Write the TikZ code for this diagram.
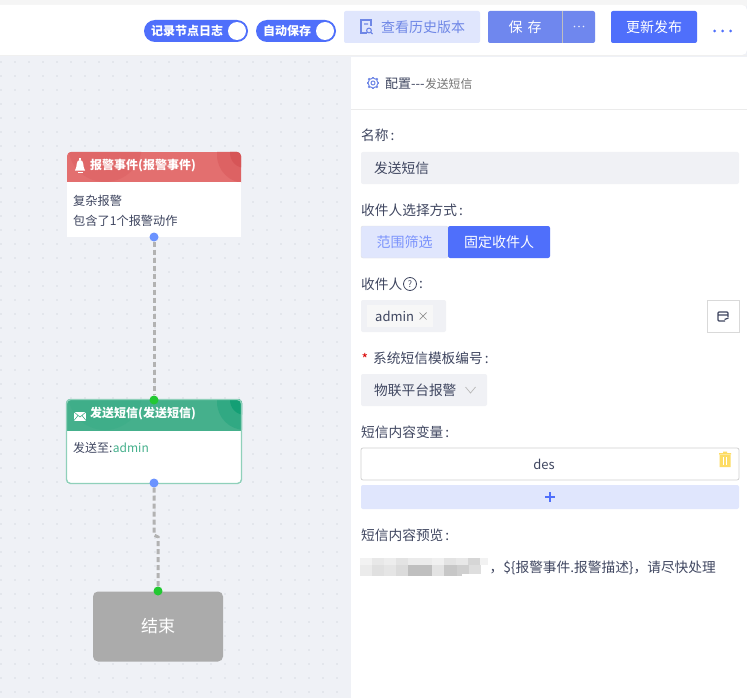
\documentclass[tikz,border=0pt]{standalone}
\usepackage{fontspec}
\setmainfont{Noto Sans CJK SC}
\usetikzlibrary{positioning}

\definecolor{canvasbg}{HTML}{EFF1F6}
\definecolor{griddot}{HTML}{BFC3CC}
\definecolor{mainblue}{HTML}{4F6FFB}
\definecolor{softblue}{HTML}{6F87E6}
\definecolor{paleblue}{HTML}{E0E6FD}
\definecolor{saveblue}{HTML}{6F87EE}
\definecolor{inputbg}{HTML}{F0F1F5}
\definecolor{inktext}{HTML}{3F4660}
\definecolor{alarmred}{HTML}{E36F6F}
\definecolor{alarmdeep}{HTML}{D65557}
\definecolor{smsgreen}{HTML}{45B08C}
\definecolor{smsdeep}{HTML}{149F75}
\definecolor{portblue}{HTML}{6B93FF}
\definecolor{portgreen}{HTML}{22C832}

\tikzset{
	label/.style={anchor=west, inner sep=0pt, yshift=-0.7pt, text=inktext, font=\fontsize{13.7}{15}\selectfont},
	small/.style={font=\fontsize{12.2}{14}\selectfont},
	btn/.style={inner sep=0pt, minimum height=32pt, rounded corners=2pt, font=\fontsize{14}{16}\selectfont},
	input/.style={inner sep=0pt, minimum height=32pt, fill=inputbg, rounded corners=2pt},
	toggle/.style={inner sep=0pt, minimum height=22pt, fill=mainblue, rounded corners=11pt, text=white, font=\bfseries\fontsize{12}{14}\selectfont},
	knob/.style={circle, fill=white, inner sep=0pt, minimum size=18pt},
	title/.style={anchor=west, inner sep=0pt, text=white, font=\bfseries\fontsize{12}{14}\selectfont},
	port/.style={circle, inner sep=0pt, minimum size=9pt},
	link/.style={draw=black!30, line width=3pt, dash pattern=on 5pt off 3pt},
}

\begin{document}
\begin{tikzpicture}[x=1pt, y=-1pt]
	\useasboundingbox (0,0) rectangle (747,698);
	\fill[canvasbg] (0,0) rectangle (747,698);

	% canvas dots
	\foreach \i in {0,...,24}
		\foreach \j in {0,...,45}
			\fill[griddot] (1+14*\i,62+14*\j) circle (0.7);

	% top bar
	\fill[white!96!black] (0,0) rectangle (747,6);
	\fill[white, rounded corners=5pt] (-10,5) rectangle (747,55);
	\draw[black!6, line width=1pt] (0,56) -- (747,56);

	\node (logtoggle) [toggle, minimum width=104pt, text width=92pt] at (196,31) {\hspace*{1pt}记录节点日志};
	\node (logknob) [knob] at (237,31) {};
	\node (savetoggle) [toggle, minimum width=80pt, text width=68pt] at (296,31) {\hspace*{1pt}自动保存};
	\node (saveknob) [knob] at (325,31) {};

	\node (history) [btn, fill=paleblue, minimum width=136pt] at (412,27) {};
	\node (historytext) [label, text=softblue, font=\fontsize{14}{16}\selectfont] at (381,27) {查看历史版本};
	\draw[softblue, line width=1.1pt] (367,33) -- (361,33) -- (361,20) -- (371,20) -- (371,26);
	\draw[softblue, line width=1.1pt] (369,30.5) circle (2.4) (371,32.5) -- (372.5,34) (364,24) -- (368,24);

	\node (save) [btn, fill=saveblue, minimum width=107pt] at (541.5,27) {};
	\node (savetext) [text=white, inner sep=0pt, font=\fontsize{14}{16}\selectfont] at (525,27) {保\hspace{5pt}存};
	\draw[black!25, line width=0.8pt] (562,11) -- (562,43);
	\foreach \x in {574.5,579,583.5}
		\fill[white!85!saveblue] (\x,26.5) circle (0.8);

	\node (publish) [btn, fill=mainblue, text=white, minimum width=86pt] at (654,27) {更新发布};
	\foreach \x in {714.5,722.5,730.5}
		\fill[mainblue] (\x,31) circle (1.5);

	% right panel
	\fill[white] (351,57) rectangle (747,698);
	\draw[black!8, line width=1pt] (351,109.5) -- (747,109.5);

	\foreach \a in {0,45,...,315}
		\draw[softblue, line width=1.8pt] (373,83) ++(\a:4.6) -- ++(\a:1.8);
	\draw[softblue, fill=white, line width=1pt] (373,83) circle (5);
	\draw[softblue, line width=1pt] (373,83) circle (2);
	\node (confhead) [label, font=\fontsize{13}{15}\selectfont] at (385,83) {配置-{}-{}-};
	\node (confname) [label, right=0pt of confhead, text=black!55, font=\fontsize{11.8}{13}\selectfont] {发送短信};

	\node (namelabel) [label] at (361,135) {名称\kern2pt:};
	\node (nameinput) [input, minimum width=378pt] at (550,168) {};
	\node (nametext) [label] at (374,168) {发送短信};

	\node (modelabel) [label] at (361,210) {收件人选择方式\kern2pt:};
	\node (modearea) [btn, fill=paleblue, draw=black!12, minimum width=87pt, text=mainblue!75] at (404.5,242) {范围筛选};
	\node (modefixed) [btn, fill=mainblue, text=white, minimum width=102pt] at (499,242) {固定收件人};

	\node (reclabel) [label] at (361,284) {收件人};
	\node (helpmark) [circle, draw=inktext, line width=0.8pt, inner sep=0pt, minimum size=13pt, text=inktext, font=\fontsize{9}{9}\selectfont] at (410,284) {?};
	\node (reccolon) [label] at (419,284) {:};
	\node (recinput) [input, minimum width=85pt] at (403.5,316) {};
	\node (rectag) [fill=black!3, inner sep=0pt, minimum width=66pt, minimum height=22pt] at (400,316) {};
	\node (rectext) [label, font=\fontsize{13}{15}\selectfont] at (375,316) {admin};
	\draw[black!45, line width=0.7pt] (419.5,312.5) -- (426.5,319.5) (426.5,312.5) -- (419.5,319.5);
	\node (recpick) [draw=black!15, inner sep=0pt, minimum size=32pt, line width=0.8pt] at (723,316) {};
	\draw[inktext, line width=1.1pt, rounded corners=1pt] (725,321) -- (718,321) -- (718,312) -- (728,312) -- (728,317) (718,315) -- (728,315);
	\draw[inktext, line width=1.2pt] (724.5,319.5) -- (728.5,318);

	\node (tplstar) [inner sep=0pt, text=red!85!black, font=\fontsize{14}{14}\selectfont] at (365,359) {*};
	\node (tpllabel) [label] at (373,358) {系统短信模板编号\kern2pt:};
	\node (tplinput) [input, minimum width=126pt] at (424,390) {};
	\node (tpltext) [label] at (374,390) {物联平台报警};
	\draw[black!28, line width=0.7pt] (465.5,387) -- (470.5,393) -- (475.5,387);

	\node (varlabel) [label] at (361,432) {短信内容变量\kern2pt:};
	\node (varbox) [draw=black!18, fill=white, line width=0.8pt, rounded corners=2pt, inner sep=0pt, minimum width=378pt, minimum height=32pt, text=inktext, font=\fontsize{13}{15}\selectfont] at (550,464) {\hspace*{-12pt}des};
	\fill[yellow!60!orange!60!white] (719.5,455) rectangle (730.5,467) (719,453) rectangle (731,454.5) (723,451.5) rectangle (727,453);
	\draw[white, line width=0.7pt] (723.5,457) -- (723.5,465) (726.5,457) -- (726.5,465);
	\node (varadd) [fill=paleblue, rounded corners=2pt, inner sep=0pt, minimum width=378pt, minimum height=24pt] at (550,497) {};
	\draw[mainblue, line width=1.6pt] (545,497) -- (555,497) (550,492) -- (550,502);

	\node (prevlabel) [label] at (361,535) {短信内容预览\kern2pt:};
	% blurred part of the preview
	\foreach \x/\w/\g in {360/12/5, 372/12/9, 384/12/7, 396/12/11, 408/24/8, 432/12/6, 444/12/11, 456/12/9, 468/12/16, 480/8/5}
		\fill[black!\g] (\x,558) rectangle (\x+\w,565);
	\foreach \x/\w/\g in {360/12/8, 372/12/12, 384/12/10, 396/12/14, 408/24/25, 432/12/11, 444/13/22, 457/12/19, 469/12/13}
		\fill[black!\g] (\x,565) rectangle (\x+\w,576);
	\fill[white] (462,574) rectangle (490,577);
	\node (prevtext) [label, anchor=east] at (716,567) {，\$\{报警事件.报警描述\}，请尽快处理};

	% alarm card
	\begin{scope}
		\clip[rounded corners=4pt] (67,152) rectangle (241,190);
		\fill[alarmred] (67,152) rectangle (241,190);
		\fill[alarmdeep!30!alarmred] (105,145) circle (37);
		\fill[alarmdeep!50!alarmred] (245,155) circle (28);
		\fill[alarmdeep] (245,153) circle (15);
	\end{scope}
	\node (alarmbody) [fill=white, inner sep=0pt, minimum width=174pt, minimum height=55pt] at (154,209.5) {};
	\node (alarmtitle) [title] at (90,165.5) {报警事件(报警事件)};
	\fill[white] (75,170.5) .. controls (77.5,167) and (75.5,160) .. (80,160) .. controls (84.5,160) and (82.5,167) .. (85,170.5) -- cycle;
	\fill[white] (79,158) rectangle (81,160);
	\fill[white] (77.5,171.5) rectangle (82.5,173);
	\node (alarmline) [label, small] at (73,200) {复杂报警};
	\node (alarmnote) [label, small] at (73,220) {包含了1个报警动作};

	% sms card
	\begin{scope}
		\clip[rounded corners=4pt] (66,399) rectangle (242,440);
		\fill[smsgreen] (66,399) rectangle (242,440);
		\fill[smsdeep!12!smsgreen] (105,393) circle (37);
		\fill[smsdeep!40!smsgreen] (245,402) circle (28);
		\fill[smsdeep] (245,400) circle (15);
	\end{scope}
	\node (smsbody) [fill=white, inner sep=0pt, minimum width=174pt, minimum height=53pt] at (154,457) {};
	\draw[smsgreen!60, line width=1.4pt, rounded corners=4pt] (66.5,399.5) rectangle (241.5,483.5);
	\node (smstitle) [title] at (90,413.5) {发送短信(发送短信)};
	\fill[white] (74,412) rectangle (86,420.5);
	\draw[smsgreen, line width=0.6pt] (74,412) -- (80,417) -- (86,412) (74,420.5) -- (78,415.5) (86,420.5) -- (82,415.5);
	\node (smsline) [label, font=\fontsize{12}{14}\selectfont] at (73,447.5) {发送至:};
	\node (smsuser) [label, right=0pt of smsline, yshift=0.7pt, text=smsgreen, font=\fontsize{12}{14}\selectfont] {admin};

	% end node
	\node (finish) [fill=black!33, rounded corners=5pt, inner sep=0pt, minimum width=130pt, minimum height=70pt, text=white, font=\fontsize{17}{19}\selectfont] at (158,626.5) {结束};

	% ports and connectors
	\node (alarmout) [port, fill=portblue] at (154,237) {};
	\node (smsin) [port, fill=portgreen] at (154,400) {};
	\node (smsout) [port, fill=portblue] at (154,483) {};
	\node (finishin) [port, fill=portgreen] at (158,591) {};
	\coordinate (jogtop) at (154,535);
	\coordinate (jogend) at (158,537);

	\draw[link] (alarmout) -- (smsin);
	\draw[link] (smsout) -- (jogtop) -- (jogend) -- (finishin);
\end{tikzpicture}
\end{document}
